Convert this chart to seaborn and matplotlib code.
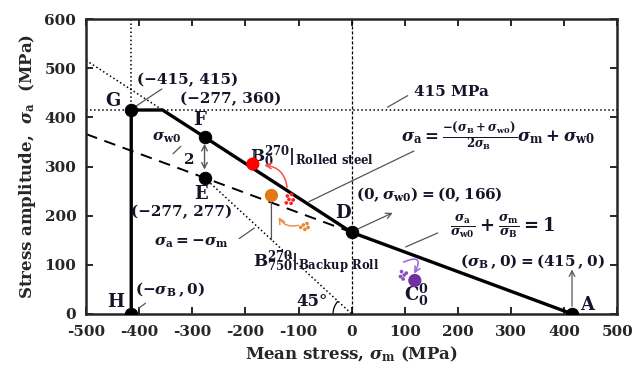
import matplotlib
matplotlib.use('Agg')
import matplotlib.pyplot as plt
import seaborn as sns
from matplotlib.patches import Arc

sns.set_style('ticks')
plt.rcParams['font.family'] = ['DejaVu Serif']
plt.rcParams['font.weight'] = 'bold'
plt.rcParams['axes.labelweight'] = 'bold'
plt.rcParams['mathtext.fontset'] = 'custom'
plt.rcParams['mathtext.rm'] = 'DejaVu Serif:bold'
plt.rcParams['mathtext.it'] = 'DejaVu Serif:bold:italic'
plt.rcParams['mathtext.bf'] = 'DejaVu Serif:bold'

# Haigh diagram values (MPa)
envelope_m = [-415, -415, -356, -277, 0, 415]
envelope_a = [0, 415, 415, 360, 166, 0]

goodman_m = [-500, -277, 0]
goodman_a = [366, 277, 166]

extension_m = [-500, -356]
extension_a = [516, 415]

diag_m = [-277, 0]
diag_a = [277, 0]

key_names = ['G', 'F', 'E', 'D', 'H', 'A']
key_m = [-415, -277, -277, 0, -415, 415]
key_a = [415, 360, 277, 166, 0, 0]

rolled_m, rolled_a = [-186], [305]
backup_m, backup_a = [-151], [241]
c00_m, c00_a = [119], [68]

rolled_dots_m = [-121, -113, -118, -110, -123, -114]
rolled_dots_a = [240, 243, 233, 232, 226, 225]
backup_dots_m = [-91, -84, -96, -88, -82]
backup_dots_a = [181, 184, 176, 172, 176]
c00_dots_m = [94, 99, 97, 103, 92]
c00_dots_a = [86, 79, 71, 83, 76]

x_ticks = list(range(-500, 501, 100))
y_ticks = list(range(0, 601, 100))

fig = plt.figure(figsize=(6.33, 3.75), dpi=100)
ax = fig.add_axes([0.136, 0.163, 0.839, 0.786])

# reference lines
ax.axhline(415, color='black', ls=':', lw=1.1, zorder=1)
ax.axvline(0, color='black', ls=(0, (2.5, 1.5)), lw=0.9, zorder=1)
ax.plot([-415, -415], [415, 600], color='black', ls=':', lw=1.1, zorder=1)

sns.lineplot(x=extension_m, y=extension_a, ax=ax, color='black', lw=1.1,
             ls=':', sort=False, estimator=None, zorder=2)
sns.lineplot(x=diag_m, y=diag_a, ax=ax, color='black', lw=1.1,
             ls=':', sort=False, estimator=None, zorder=2)
sns.lineplot(x=goodman_m, y=goodman_a, ax=ax, color='black', lw=1.4,
             ls=(0, (6, 4)), sort=False, estimator=None, zorder=2)
sns.lineplot(x=envelope_m, y=envelope_a, ax=ax, color='black', lw=2.4,
             sort=False, estimator=None, zorder=3)

sns.scatterplot(x=key_m, y=key_a, ax=ax, color='black', s=80,
                edgecolor='black', zorder=5)
sns.scatterplot(x=rolled_m, y=rolled_a, ax=ax, color='#ff0000', s=90,
                edgecolor='none', zorder=5)
sns.scatterplot(x=backup_m, y=backup_a, ax=ax, color='#e07818', s=90,
                edgecolor='none', zorder=5)
sns.scatterplot(x=c00_m, y=c00_a, ax=ax, color='#7030a0', s=90,
                edgecolor='none', zorder=5)
sns.scatterplot(x=rolled_dots_m, y=rolled_dots_a, ax=ax, color='#ff2020',
                s=7, edgecolor='none', zorder=4)
sns.scatterplot(x=backup_dots_m, y=backup_dots_a, ax=ax, color='#e88830',
                s=7, edgecolor='none', zorder=4)
sns.scatterplot(x=c00_dots_m, y=c00_dots_a, ax=ax, color='#8a4cc0',
                s=7, edgecolor='none', zorder=4)

ax.set_xlim(-500, 500)
ax.set_ylim(0, 600)
ax.set_xticks(x_ticks)
ax.set_yticks(y_ticks)
ax.set_xticklabels([str(t) for t in x_ticks])
ax.tick_params(direction='in', top=True, right=True, length=5, width=1.4,
               labelsize=11)
ax.tick_params(axis='x', pad=8)
ax.tick_params(axis='y', pad=7)
for sp in ax.spines.values():
    sp.set_linewidth(1.8)
ax.set_xlabel(r'Mean stress, $\sigma_{\mathrm{m}}$ (MPa)', fontsize=12, labelpad=4)
ax.set_ylabel(r'Stress amplitude,  $\sigma_{\mathrm{a}}$  (MPa)', fontsize=12, labelpad=5)

txt = '#15152a'
gray = '#555555'

# point letters
letter_pos = {'G': (-449, 433), 'F': (-286, 394), 'E': (-283, 245),
              'D': (-16, 205), 'H': (-444, 25), 'A': (443, 18)}
for name in key_names:
    lx, ly = letter_pos[name]
    ax.text(lx, ly, name, fontsize=13, ha='center', va='center', color=txt, zorder=6)

ax.text(-309, 476, '(−415, 415)', fontsize=11, ha='center', va='center', color=txt)
ax.annotate('', xy=(-410, 420), xytext=(-353, 461),
            arrowprops=dict(arrowstyle='-', color=gray, lw=0.9))
ax.text(-228, 437, '(−277, 360)', fontsize=11, ha='center', va='center', color=txt)
ax.text(-321, 208, '(−277, 277)', fontsize=11, ha='center', va='center', color=txt)

ax.text(-301, 144, r'$\sigma_{\mathrm{a}}=-\sigma_{\mathrm{m}}$', fontsize=11,
        ha='center', va='center', color=txt)
ax.annotate('', xy=(-179, 178), xytext=(-216, 150),
            arrowprops=dict(arrowstyle='-', color=gray, lw=0.9))

ax.text(-342, 49, r'$(-\sigma_{\mathrm{B}}\,, 0)$', fontsize=11,
        ha='center', va='center', color=txt)
ax.annotate('', xy=(-405, 8), xytext=(-384, 25),
            arrowprops=dict(arrowstyle='-', color=gray, lw=0.9))

# sigma_w0 / 2
ax.annotate('', xy=(-277, 352), xytext=(-277, 288),
            arrowprops=dict(arrowstyle='<->', color=gray, lw=1.0))
ax.text(-348, 358, r'$\sigma_{\mathrm{w0}}$', fontsize=11, ha='center', va='center', color=txt)
ax.annotate('', xy=(-318, 345), xytext=(-340, 322),
            arrowprops=dict(arrowstyle='-', color=gray, lw=0.9))
ax.text(-305, 313, '2', fontsize=11, ha='center', va='center', color=txt)

# 415 MPa
ax.text(187, 452, '415 MPa', fontsize=11, ha='center', va='center', color=txt)
ax.annotate('', xy=(63, 418), xytext=(110, 447),
            arrowprops=dict(arrowstyle='-', color=gray, lw=0.9))

ax.text(276, 361,
        r'$\sigma_{\mathrm{a}}=\frac{-(\sigma_{\mathrm{B}}+\sigma_{\mathrm{w0}})}'
        r'{2\sigma_{\mathrm{B}}}\sigma_{\mathrm{m}}+\sigma_{\mathrm{w0}}$',
        fontsize=12, ha='center', va='center', color=txt)
ax.annotate('', xy=(-85, 226), xytext=(122, 334),
            arrowprops=dict(arrowstyle='-', color=gray, lw=0.9))

# specimens
ax.text(-192, 320, r'$\mathrm{B}_0^{270}|_{\mathrm{Rolled\ steel}}$', fontsize=12,
        ha='left', va='center', color=txt)
ax.annotate('', xy=(-185, 312), xytext=(-181, 336),
            arrowprops=dict(arrowstyle='-', color=gray, lw=0.9))
ax.annotate('', xy=(-170, 303), xytext=(-121, 252),
            arrowprops=dict(arrowstyle='->', color='#ff4a4a', lw=1.1,
                            connectionstyle='arc3,rad=0.45'))

ax.text(-186, 106, r'$\mathrm{B}_{750}^{270}|_{\mathrm{Backup\ Roll}}$', fontsize=12,
        ha='left', va='center', color=txt)
ax.annotate('', xy=(-151, 234), xytext=(-151, 145),
            arrowprops=dict(arrowstyle='-', color=gray, lw=0.9))
ax.annotate('', xy=(-140, 202), xytext=(-95, 182),
            arrowprops=dict(arrowstyle='->', color='#f09050', lw=1.1,
                            connectionstyle='arc3,rad=-0.45'))

ax.text(122, 38, r'$\mathrm{C}_0^0$', fontsize=13, ha='center', va='center', color=txt)
ax.annotate('', xy=(115, 77), xytext=(93, 103),
            arrowprops=dict(arrowstyle='->', color='#9b66d6', lw=1.1,
                            connectionstyle='arc3,rad=-1.6'))

# point D labels
ax.text(146, 242, r'$(0, \sigma_{\mathrm{w0}}) = (0, 166)$', fontsize=11,
        ha='center', va='center', color=txt)
ax.annotate('', xy=(82, 208), xytext=(4, 169),
            arrowprops=dict(arrowstyle='->', color=gray, lw=0.9))
ax.text(285, 178,
        r'$\frac{\sigma_{\mathrm{a}}}{\sigma_{\mathrm{w0}}}+'
        r'\frac{\sigma_{\mathrm{m}}}{\sigma_{\mathrm{B}}}=1$',
        fontsize=13, ha='center', va='center', color=txt)
ax.annotate('', xy=(97, 134), xytext=(167, 167),
            arrowprops=dict(arrowstyle='-', color=gray, lw=0.9))

ax.text(340, 106, r'$(\sigma_{\mathrm{B}}\,, 0) = (415\,, 0)$', fontsize=11,
        ha='center', va='center', color=txt)
ax.annotate('', xy=(415, 96), xytext=(415, 10),
            arrowprops=dict(arrowstyle='->', color=gray, lw=0.9))

# 45 degree mark
ax.text(-75, 25, '45°', fontsize=12, ha='center', va='center', color=txt)
ax.add_patch(Arc((0, 0), 70, 76, theta1=135, theta2=180, color='black', lw=0.9))

fig.savefig('out.png', dpi=100)
